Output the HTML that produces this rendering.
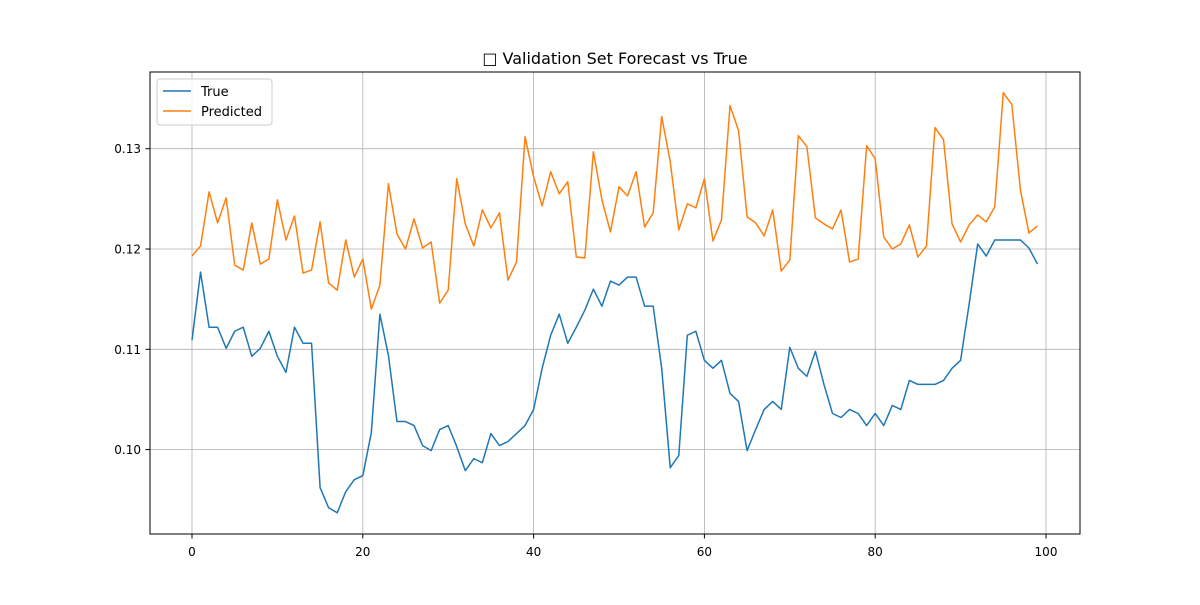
<!DOCTYPE html>
<html><head><meta charset="utf-8"><style>
body{margin:0;background:#fff;font-family:"Liberation Sans","DejaVu Sans",sans-serif;}
svg text{font-family:"DejaVu Sans","Liberation Sans",sans-serif;}
</style></head><body>
<svg id="chart" width="1200" height="600" xmlns="http://www.w3.org/2000/svg">
<rect width="1200" height="600" fill="#fff"/>
<g id="grid"></g>
<g id="series"></g>
<rect x="150" y="72" width="930" height="462" fill="none" stroke="#000" stroke-width="1"/>
<g id="ticks"></g>
<text x="615" y="64" text-anchor="middle" font-size="16">□ Validation Set Forecast vs True</text>
<g>
<rect x="157" y="79" width="115" height="46" rx="3" fill="#fff" fill-opacity="0.8" stroke="#ccc"/>
<line x1="163" y1="91" x2="191" y2="91" stroke="#1f77b4" stroke-width="1.5"/>
<text x="201" y="96" font-size="13">True</text>
<line x1="163" y1="111" x2="191" y2="111" stroke="#ff7f0e" stroke-width="1.5"/>
<text x="201" y="116" font-size="13">Predicted</text>
</g>
</svg>
<script>
const trueVals=[0.1109,0.1177,0.1122,0.1122,0.1101,0.1118,0.1122,0.1093,0.1101,0.1118,0.1093,0.1077,0.1122,0.1106,0.1106,0.0962,0.0942,0.0937,0.0958,0.0970,0.0974,0.1017,0.1135,0.1094,0.1028,0.1028,0.1024,0.1004,0.0999,0.1020,0.1024,0.1003,0.0979,0.0991,0.0987,0.1016,0.1004,0.1008,0.1016,0.1024,0.1040,0.1081,0.1114,0.1135,0.1106,0.1122,0.1139,0.1160,0.1143,0.1168,0.1164,0.1172,0.1172,0.1143,0.1143,0.1081,0.0982,0.0994,0.1114,0.1118,0.1089,0.1081,0.1089,0.1056,0.1048,0.0999,0.1020,0.1040,0.1048,0.1040,0.1102,0.1081,0.1073,0.1098,0.1065,0.1036,0.1032,0.1040,0.1036,0.1024,0.1036,0.1024,0.1044,0.1040,0.1069,0.1065,0.1065,0.1065,0.1069,0.1081,0.1089,0.1145,0.1205,0.1193,0.1209,0.1209,0.1209,0.1209,0.1201,0.1185];
const predVals=[0.1193,0.1203,0.1257,0.1226,0.1251,0.1184,0.1179,0.1226,0.1185,0.1190,0.1249,0.1209,0.1233,0.1176,0.1179,0.1227,0.1166,0.1159,0.1209,0.1172,0.1190,0.1140,0.1164,0.1265,0.1215,0.1200,0.1230,0.1201,0.1207,0.1146,0.1159,0.1270,0.1225,0.1203,0.1239,0.1221,0.1236,0.1169,0.1187,0.1312,0.1272,0.1243,0.1277,0.1255,0.1267,0.1192,0.1191,0.1297,0.1249,0.1217,0.1262,0.1253,0.1277,0.1222,0.1236,0.1332,0.1287,0.1219,0.1245,0.1241,0.1270,0.1208,0.1229,0.1343,0.1318,0.1232,0.1226,0.1213,0.1239,0.1178,0.1189,0.1313,0.1302,0.1231,0.1225,0.1220,0.1239,0.1187,0.1190,0.1303,0.1290,0.1212,0.1200,0.1205,0.1224,0.1192,0.1203,0.1321,0.1309,0.1225,0.1207,0.1224,0.1234,0.1227,0.1242,0.1356,0.1344,0.1259,0.1216,0.1223];
const xTicks=[0,20,40,60,80,100];
const yTicks=[0.10,0.11,0.12,0.13];
const yLabels=["0.10","0.11","0.12","0.13"];
const NS="http://www.w3.org/2000/svg";
const xs=v=>192+v*8.54;
const ys=v=>249-(v-0.12)*10030;
const grid=document.getElementById('grid'),ticks=document.getElementById('ticks'),series=document.getElementById('series');
function mk(tag,attrs,parent){const e=document.createElementNS(NS,tag);for(const k in attrs)e.setAttribute(k,attrs[k]);parent.appendChild(e);return e;}
xTicks.forEach(t=>{
  const x=xs(t);
  const g=mk('line',{x1:x,y1:72,x2:x,y2:534,stroke:'#b0b0b0','stroke-width':0.8},grid);
  
  
  const tk=mk('line',{x1:x,y1:534,x2:x,y2:538.5,stroke:'#000'},ticks);
  
  
  const tx=mk('text',{x:x,y:556,'text-anchor':'middle','font-size':12},ticks);
  tx.textContent=t;
  
  
});
yTicks.forEach((t,i)=>{
  const y=ys(t);
  const g=mk('line',{x1:150,y1:y,x2:1080,y2:y,stroke:'#b0b0b0','stroke-width':0.8},grid);
  
  
  const tk=mk('line',{x1:145.5,y1:y,x2:150,y2:y,stroke:'#000'},ticks);
  
  
  const tx=mk('text',{x:141,y:y+4.5,'text-anchor':'end','font-size':12},ticks);
  tx.textContent=yLabels[i];
  
  
});
function line(vals,color,name){
  const p=mk('polyline',{points:vals.map((v,i)=>xs(i)+','+ys(v)).join(' '),fill:'none',stroke:color,'stroke-width':1.5,'stroke-linejoin':'round'},series);
  
  
}
line(trueVals,'#1f77b4','true-line');
line(predVals,'#ff7f0e','predicted-line');
</script>
</body></html>
